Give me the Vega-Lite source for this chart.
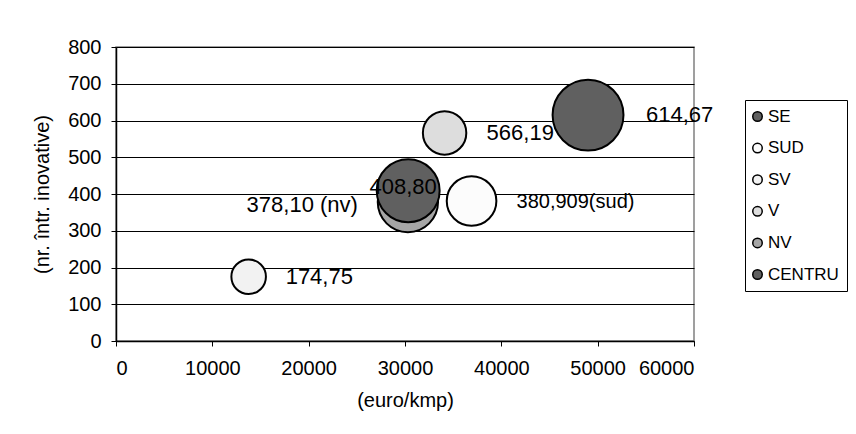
{
  "$schema": "https://vega.github.io/schema/vega-lite/v6.json",
  "width": 578,
  "height": 294,
  "autosize": {"type": "none"},
  "padding": {"left": 116, "top": 47, "right": 162, "bottom": 93},
  "background": "white",
  "data": {
    "values": [
      {"regiune": "SE", "euro_kmp": 49000, "intr_inovative": 614.67, "dimensiune": 1600, "eticheta": "614,67"},
      {"regiune": "SUD", "euro_kmp": 36910, "intr_inovative": 380.909, "dimensiune": 784, "eticheta": "380,909(sud)"},
      {"regiune": "SV", "euro_kmp": 13770, "intr_inovative": 174.75, "dimensiune": 380, "eticheta": "174,75"},
      {"regiune": "V", "euro_kmp": 34110, "intr_inovative": 566.19, "dimensiune": 600, "eticheta": "566,19"},
      {"regiune": "NV", "euro_kmp": 30300, "intr_inovative": 378.10, "dimensiune": 1156, "eticheta": "378,10 (nv)"},
      {"regiune": "CENTRU", "euro_kmp": 30330, "intr_inovative": 408.80, "dimensiune": 1260, "eticheta": "408,80"}
    ]
  },
  "config": {
    "font": "Liberation Sans",
    "view": {"stroke": "#808080", "strokeWidth": 1.5},
    "axis": {
      "labelFont": "Liberation Sans",
      "labelFontSize": 20,
      "labelColor": "black",
      "titleFont": "Liberation Sans",
      "titleFontSize": 20,
      "titleFontWeight": "normal",
      "titleColor": "black",
      "domainColor": "black",
      "domainWidth": 1.5,
      "tickColor": "black",
      "tickWidth": 1,
      "tickSize": 5
    },
    "text": {"font": "Liberation Sans", "color": "black"}
  },
  "encoding": {
    "x": {
      "field": "euro_kmp",
      "type": "quantitative",
      "scale": {"domain": [0, 60000], "nice": false},
      "axis": {
        "title": "(euro/kmp)",
        "values": [0, 10000, 20000, 30000, 40000, 50000, 60000],
        "format": "d",
        "grid": false,
        "labelPadding": 12,
        "titlePadding": 12
      }
    },
    "y": {
      "field": "intr_inovative",
      "type": "quantitative",
      "scale": {"domain": [0, 800], "nice": false},
      "axis": {
        "title": "(nr. într. inovative)",
        "values": [0, 100, 200, 300, 400, 500, 600, 700, 800],
        "format": "d",
        "grid": true,
        "gridColor": "black",
        "gridWidth": 1,
        "labelPadding": 10,
        "titlePadding": 15
      }
    }
  },
  "layer": [
    {
      "mark": {"type": "point", "shape": "circle", "filled": true, "stroke": "black", "strokeWidth": 2, "opacity": 1},
      "encoding": {
        "fill": {
          "field": "regiune",
          "type": "nominal",
          "scale": {
            "domain": ["SE", "SUD", "SV", "V", "NV", "CENTRU"],
            "range": ["#606060", "#fcfcfc", "#f2f2f2", "#dddddd", "#a6a6a6", "#606060"]
          },
          "legend": {
            "title": null,
            "orient": "none",
            "legendX": 629,
            "legendY": 53,
            "strokeColor": "black",
            "fillColor": "white",
            "padding": 8,
            "rowPadding": 13.6,
            "labelFont": "Liberation Sans",
            "labelFontSize": 17,
            "labelColor": "black",
            "labelOffset": 2,
            "symbolOffset": -4,
            "symbolType": "circle",
            "symbolSize": 90,
            "symbolStrokeColor": "black",
            "symbolStrokeWidth": 1.5
          }
        },
        "size": {
          "field": "dimensiune",
          "type": "quantitative",
          "scale": {"domain": [0, 1600], "range": [0, 5027]},
          "legend": null
        },
        "order": {"field": "dimensiune", "type": "quantitative", "sort": "ascending"}
      }
    },
    {
      "transform": [{"filter": "datum.regiune === 'SE'"}],
      "mark": {"type": "text", "align": "left", "baseline": "middle", "dx": 58, "fontSize": 22},
      "encoding": {"text": {"field": "eticheta"}}
    },
    {
      "transform": [{"filter": "datum.regiune === 'V'"}],
      "mark": {"type": "text", "align": "left", "baseline": "middle", "dx": 42, "fontSize": 22},
      "encoding": {"text": {"field": "eticheta"}}
    },
    {
      "transform": [{"filter": "datum.regiune === 'SUD'"}],
      "mark": {"type": "text", "align": "left", "baseline": "middle", "dx": 45, "dy": 1, "fontSize": 20},
      "encoding": {"text": {"field": "eticheta"}}
    },
    {
      "transform": [{"filter": "datum.regiune === 'CENTRU'"}],
      "mark": {"type": "text", "align": "center", "baseline": "middle", "dx": -5, "dy": -4, "fontSize": 22},
      "encoding": {"text": {"field": "eticheta"}}
    },
    {
      "transform": [{"filter": "datum.regiune === 'NV'"}],
      "mark": {"type": "text", "align": "right", "baseline": "middle", "dx": -50, "dy": 3, "fontSize": 22},
      "encoding": {"text": {"field": "eticheta"}}
    },
    {
      "transform": [{"filter": "datum.regiune === 'SV'"}],
      "mark": {"type": "text", "align": "left", "baseline": "middle", "dx": 37, "fontSize": 22},
      "encoding": {"text": {"field": "eticheta"}}
    }
  ]
}
